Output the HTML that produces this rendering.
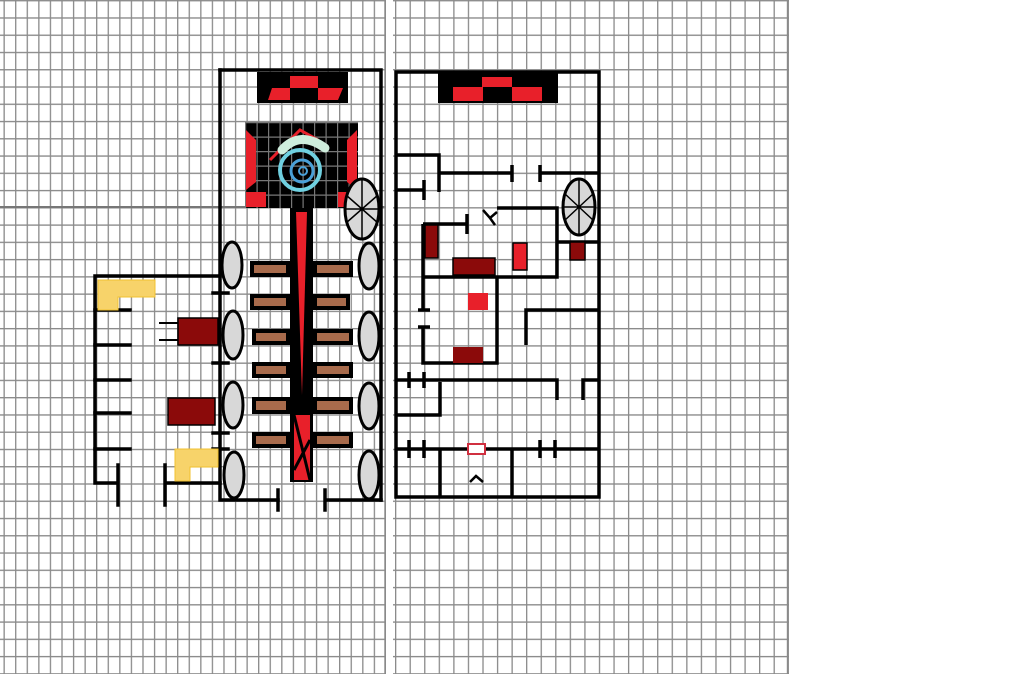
<!DOCTYPE html>
<html><head><meta charset="utf-8"><style>html,body{margin:0;padding:0;background:#fff;width:1023px;height:679px;overflow:hidden}</style></head>
<body>
<svg width="1023" height="679" viewBox="0 0 1023 679" xmlns="http://www.w3.org/2000/svg">
<defs>
<pattern id="gl" x="3.5" y="17.3" width="11.57" height="17.26" patternUnits="userSpaceOnUse">
<path d="M0.6 0V17.26M0 0.6H11.57" stroke="#8a8a8a" stroke-width="1.4" fill="none"/>
</pattern>
<pattern id="gr" x="395" y="17.3" width="14.56" height="17.26" patternUnits="userSpaceOnUse">
<path d="M0.6 0V17.26M0 0.6H14.56" stroke="#8a8a8a" stroke-width="1.4" fill="none"/>
</pattern>
<pattern id="gd" x="245" y="122" width="11.5" height="14.5" patternUnits="userSpaceOnUse">
<path d="M0.6 0V14.5M0 0.6H11.5" stroke="#777" stroke-width="1.2" fill="none"/>
</pattern>
</defs>
<rect x="0" y="0" width="386" height="674" fill="url(#gl)"/>
<rect x="393" y="0" width="396" height="674" fill="url(#gr)"/>
<line x1="0" y1="207" x2="386" y2="207" stroke="#777" stroke-width="2"/>
<line x1="787.5" y1="0" x2="787.5" y2="674" stroke="#8a8a8a" stroke-width="1.4"/>
<line x1="385" y1="0" x2="385" y2="674" stroke="#8a8a8a" stroke-width="1.4"/>

<!-- LEFT BUILDING -->
<g stroke="#000" stroke-width="3.5" fill="none" stroke-linecap="square">
<path d="M220 70H381V500"/>
<path d="M220 70V500H278"/>
<path d="M278 490V510M325 490V510M325 500H381"/>
<!-- annex -->
<path d="M220 276H95V483H118M118 465V505M165 465V505M165 483H220"/>
<path d="M95 310H130M95 345H130M95 380H130M95 413H130M95 449H130"/>
<path d="M213 293H228M213 363H228M213 433H228M213 449H228"/>
<path d="M160 323H178M160 340H178" stroke-width="2"/>
</g>
<!-- yellow -->
<g fill="#f7d36a" stroke="#f2c230" stroke-width="1">
<path d="M98 280H155V297H118V310H98Z"/>
<path d="M175 449H218V467H190V481H175Z"/>
</g>
<g fill="#8b0a0a" stroke="#000" stroke-width="1.5">
<rect x="178" y="318" width="40" height="27"/>
<rect x="168" y="398" width="47" height="27"/>
</g>
<!-- banner -->
<rect x="257" y="72" width="91" height="31" fill="#000"/>
<path d="M290 76H318V88H343L338 100H318V88H290V100H268L272 88H290Z" fill="#e8202a"/>
<!-- big square -->
<rect x="245" y="122" width="113" height="86" fill="#000"/>
<rect x="245" y="122" width="113" height="86" fill="url(#gd)"/>
<path d="M246 130L256 140V182L246 190Z" fill="#e8202a"/>
<path d="M357 130L347 140V182L357 190Z" fill="#e8202a"/>
<rect x="246" y="192" width="20" height="15" fill="#e8202a"/>
<rect x="338" y="192" width="18" height="15" fill="#e8202a"/>
<path d="M270 160L300 130L318 140" stroke="#e8202a" stroke-width="3" fill="none"/>
<g fill="none" stroke-linecap="round">
<path d="M282 150Q300 130 325 148" stroke="#cfeedd" stroke-width="9"/>
<circle cx="300" cy="170" r="20" stroke="#6fd0e0" stroke-width="4"/>
<circle cx="302" cy="171" r="11" stroke="#4aa0d8" stroke-width="3"/>
<circle cx="303" cy="171" r="4" stroke="#4aa0d8" stroke-width="2"/>
</g>
<!-- spine -->
<rect x="290" y="208" width="23" height="274" fill="#000"/>
<path d="M296 212H307L302 395Z" fill="#e8202a"/>
<path d="M294 415H310V480H294Z" fill="#e8202a"/>
<path d="M294 415L310 480M310 440L294 470" stroke="#000" stroke-width="3"/>
<!-- brown bars -->
<g fill="#a86b4c" stroke="#000" stroke-width="4">
<rect x="252" y="263" width="36" height="12"/><rect x="315" y="263" width="36" height="12"/>
<rect x="252" y="296" width="36" height="12"/><rect x="315" y="296" width="33" height="12"/>
<rect x="254" y="331" width="34" height="12"/><rect x="315" y="331" width="36" height="12"/>
<rect x="254" y="364" width="34" height="12"/><rect x="315" y="364" width="36" height="12"/>
<rect x="254" y="399" width="34" height="13"/><rect x="315" y="399" width="36" height="13"/>
<rect x="254" y="434" width="34" height="12"/><rect x="315" y="434" width="36" height="12"/>
</g>
<!-- ovals -->
<g fill="#d8d8d8" stroke="#000" stroke-width="3">
<ellipse cx="232" cy="265" rx="10" ry="23"/><ellipse cx="233" cy="335" rx="10" ry="24"/>
<ellipse cx="233" cy="405" rx="10" ry="23"/><ellipse cx="234" cy="475" rx="10" ry="23"/>
<ellipse cx="369" cy="266" rx="10" ry="23"/><ellipse cx="369" cy="336" rx="10" ry="24"/>
<ellipse cx="369" cy="406" rx="10" ry="23"/><ellipse cx="369" cy="475" rx="10" ry="24"/>
<ellipse cx="362" cy="209" rx="17" ry="30"/>
<ellipse cx="579" cy="207" rx="16" ry="28"/>
</g>
<g stroke="#000" stroke-width="1.5">
<path d="M362 180V238M346 195L378 223M346 223L378 195M345 209H379"/>
<path d="M579 180V234M564 193L594 221M564 221L594 193M563 207H595"/>
</g>

<!-- RIGHT BUILDING -->
<rect x="438" y="73" width="120" height="30" fill="#000"/>
<g fill="#e8202a"><rect x="482" y="77" width="30" height="10"/><rect x="453" y="87" width="30" height="14"/><rect x="512" y="87" width="30" height="14"/></g>
<g stroke="#000" stroke-width="3.5" fill="none">
<rect x="396" y="72" width="203" height="425"/>
<path d="M396 155H439V192M439 173H512M512 165V182M540 173H599M540 165V182M396 190H424M424 180V200"/>
<path d="M497 208H557V277H423M423 224H467M467 214V234M423 224V310M423 327V363H497V277"/>
<path d="M483 210L490 218L497 212M490 218L495 225" stroke-width="2.5"/>
<path d="M557 242H599M526 345V310H599"/>
<path d="M396 380H557V400M583 400V380H599M409 372V388M424 372V388M440 382V415H396"/>
<path d="M396 449H599M409 440V458M424 440V458M540 440V458M555 440V458M440 449V497M512 449V497"/>
<path d="M418 310H430M418 327H430"/>
<path d="M470 482L476 476L483 482" stroke-width="2.5"/>
</g>
<rect x="468" y="444" width="17" height="10" fill="#fff" stroke="#d03040" stroke-width="2"/>
<g stroke="#000" stroke-width="1.5">
<rect x="425" y="225" width="13" height="33" fill="#8b0a0a"/>
<rect x="453" y="258" width="42" height="17" fill="#8b0a0a"/>
<rect x="513" y="243" width="14" height="27" fill="#e8202a"/>
<rect x="570" y="242" width="15" height="18" fill="#8b0a0a"/>
<rect x="468" y="293" width="20" height="17" fill="#e8202a" stroke="none"/>
<rect x="453" y="347" width="30" height="16" fill="#8b0a0a" stroke="none"/>
</g>
</svg>
</body></html>
